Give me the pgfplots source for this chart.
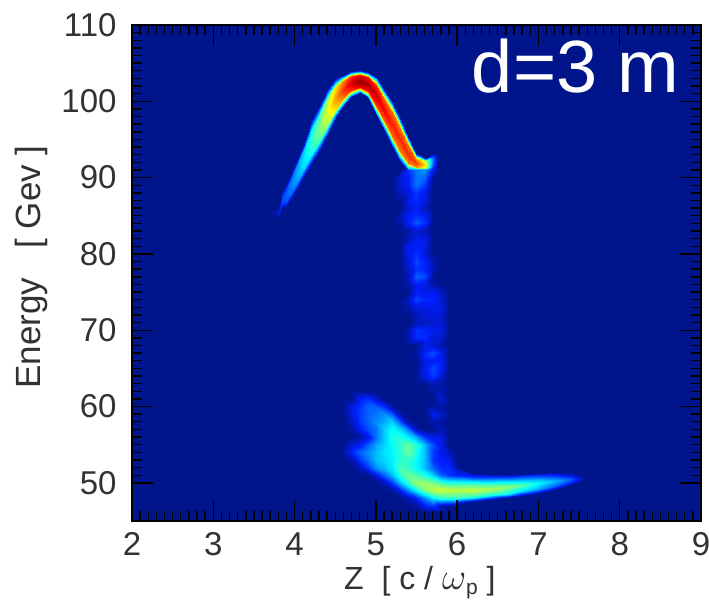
\documentclass[border=0pt]{standalone}
\usepackage{pgfplots}
\usepackage{pgfplotstable}
\usepackage{fontspec}
\setmainfont{Liberation Sans}
\pgfplotsset{compat=1.18}
\definecolor{bg}{RGB}{0,20,140}
\definecolor{lab}{RGB}{50,50,50}
\pgfplotstableread[row sep=\\]{
Z E m\\
3.74 84.5 0\\3.74 84.8 0\\3.74 85 0\\3.74 85.2 0\\3.74 85.4 0\\3.74 85.6 0\\3.74 85.8 0\\
3.8 84.7 0\\3.8 84.79 .03\\3.8 84.97 .07\\3.8 85.3 .08\\3.8 85.63 .07\\3.8 85.81 .03\\3.8 85.9 0\\
3.85 86 0\\3.85 86.17 .06\\3.85 86.5 .15\\3.85 87.1 .17\\3.85 87.7 .15\\3.85 88.04 .06\\3.85 88.2 0\\
3.9 86.2 0\\3.9 86.41 .07\\3.9 86.83 .18\\3.9 87.6 .2\\3.9 88.43 .18\\3.9 88.88 .07\\3.9 89.1 0\\
4.0 88 0\\4.0 88.2 .09\\4.0 88.85 .24\\4.0 89.9 .27\\4.0 90.95 .24\\4.0 91.6 .09\\4.0 91.8 0\\
4.1 89.9 0\\4.1 90.27 .12\\4.1 91.01 .32\\4.1 92.2 .35\\4.1 93.34 .32\\4.1 94.05 .12\\4.1 94.4 0\\
4.2 91.6 0\\4.2 92.06 .15\\4.2 92.98 .38\\4.2 94.5 .42\\4.2 96.08 .38\\4.2 97.03 .15\\4.2 97.5 0\\
4.3 93.4 0\\4.3 93.88 .18\\4.3 94.83 .45\\4.3 96.4 .5\\4.3 97.98 .45\\4.3 98.93 .18\\4.3 99.4 0\\
4.4 95.4 0\\4.4 95.89 .21\\4.4 96.87 .54\\4.4 98.5 .6\\4.4 100.13 .54\\4.4 101.11 .21\\4.4 101.6 0\\
4.5 97.6 0\\4.5 98.03 .25\\4.5 98.89 .65\\4.5 100.3 .72\\4.5 101.71 .65\\4.5 102.57 .25\\4.5 103 0\\
4.6 99.3 0\\4.6 99.66 .29\\4.6 100.37 .75\\4.6 101.5 .83\\4.6 102.6 .75\\4.6 103.2 .29\\4.6 103.5 0\\
4.7 100.6 0\\4.7 100.85 .32\\4.7 101.45 .83\\4.7 102.4 .92\\4.7 103.3 .83\\4.7 103.75 .32\\4.7 104 0\\
4.8 101.1 0\\4.8 101.35 .35\\4.8 101.85 .89\\4.8 102.7 .99\\4.8 103.5 .89\\4.8 103.9 .35\\4.8 104.1 0\\
4.9 100.4 0\\4.9 100.7 .34\\4.9 101.3 .86\\4.9 102.3 .96\\4.9 103.2 .86\\4.9 103.6 .34\\4.9 103.9 0\\
5.0 98.2 0\\5.0 98.6 .32\\5.0 99.47 .83\\5.0 100.9 .92\\5.0 102.15 .83\\5.0 102.9 .32\\5.0 103.3 0\\
5.1 96.2 0\\5.1 96.63 .31\\5.1 97.49 .79\\5.1 98.9 .88\\5.1 100.31 .79\\5.1 101.17 .31\\5.1 101.6 0\\
5.2 94 0\\5.2 94.48 .3\\5.2 95.43 .77\\5.2 97 .85\\5.2 98.63 .77\\5.2 99.61 .3\\5.2 100.1 0\\
5.3 92.1 .03\\5.3 92.56 .29\\5.3 93.48 .76\\5.3 95 .84\\5.3 96.52 .76\\5.3 97.44 .29\\5.3 97.9 0\\
5.4 91 .15\\5.4 91.3 .32\\5.4 91.85 .76\\5.4 93 .84\\5.4 94.3 .76\\5.4 95.1 .29\\5.4 95.5 0\\
5.5 91 .22\\5.5 91.14 .32\\5.5 91.4 .74\\5.5 91.9 .82\\5.5 92.5 .74\\5.5 92.9 .29\\5.5 93.2 0\\
5.6 91 .25\\5.6 91.1 .3\\5.6 91.32 .59\\5.6 91.7 .66\\5.6 92.2 .59\\5.6 92.47 .23\\5.6 92.6 0\\
5.65 91 .18\\5.65 91.14 .22\\5.65 91.4 .38\\5.65 91.9 .42\\5.65 92.45 .38\\5.65 92.75 .15\\5.65 92.9 0\\
5.7 91 .1\\5.7 91.4 .14\\5.7 91.84 .19\\5.7 92.4 .22\\5.7 92.72 .19\\5.7 92.98 .1\\5.7 93.2 0\\
5.76 91 0\\5.76 91.4 0\\5.76 91.84 0\\5.76 92.4 0\\5.76 92.72 0\\5.76 92.98 0\\5.76 93.2 0\\
}\arc
\pgfplotstableread[row sep=\\]{
Z E m\\
5.2 91 0\\5.3 91 0\\
5.2 90 0\\5.3 90 .08\\
5.2 89 0\\5.3 89 .08\\
5.2 88 0\\5.3 88 .05\\
5.2 87 0\\5.3 87 0\\
5.2 86 0\\5.3 86 0\\
5.2 85 0\\5.3 85 .05\\
5.2 84 0\\5.3 84 .02\\
5.2 83 0\\5.3 83 0\\
}\streamedge
\pgfplotstableread[row sep=\\]{
Z E m\\
5.3 91 0\\5.4 91 .15\\5.5 91 .22\\5.6 91 .25\\5.7 91 .1\\5.8 91 0\\5.9 91 0\\
5.3 90 .08\\5.4 90 .12\\5.5 90 .22\\5.6 90 .2\\5.7 90 0\\5.8 90 0\\5.9 90 0\\
5.3 89 .08\\5.4 89 .12\\5.5 89 .22\\5.6 89 .15\\5.7 89 0\\5.8 89 0\\5.9 89 0\\
5.3 88 .05\\5.4 88 .08\\5.5 88 .15\\5.6 88 .1\\5.7 88 0\\5.8 88 0\\5.9 88 0\\
5.3 87 0\\5.4 87 .1\\5.5 87 .14\\5.6 87 .08\\5.7 87 0\\5.8 87 0\\5.9 87 0\\
5.3 86 0\\5.4 86 .07\\5.5 86 .12\\5.6 86 .05\\5.7 86 0\\5.8 86 0\\5.9 86 0\\
5.3 85 .05\\5.4 85 .12\\5.5 85 .15\\5.6 85 .12\\5.7 85 0\\5.8 85 0\\5.9 85 0\\
5.3 84 .02\\5.4 84 .12\\5.5 84 .19\\5.6 84 .14\\5.7 84 0\\5.8 84 0\\5.9 84 0\\
5.3 83 0\\5.4 83 .03\\5.5 83 .08\\5.6 83 .04\\5.7 83 0\\5.8 83 0\\5.9 83 0\\
5.3 82 0\\5.4 82 .05\\5.5 82 .1\\5.6 82 .1\\5.7 82 0\\5.8 82 0\\5.9 82 0\\
5.3 81 0\\5.4 81 .12\\5.5 81 .12\\5.6 81 .1\\5.7 81 0\\5.8 81 0\\5.9 81 0\\
5.3 80 0\\5.4 80 .1\\5.5 80 .15\\5.6 80 .08\\5.7 80 0\\5.8 80 0\\5.9 80 0\\
5.3 79 0\\5.4 79 .09\\5.5 79 .17\\5.6 79 .13\\5.7 79 .03\\5.8 79 0\\5.9 79 0\\
5.3 78 0\\5.4 78 .06\\5.5 78 .15\\5.6 78 .13\\5.7 78 .04\\5.8 78 0\\5.9 78 0\\
5.3 77 0\\5.4 77 .05\\5.5 77 .2\\5.6 77 .17\\5.7 77 0\\5.8 77 0\\5.9 77 0\\
5.3 76 0\\5.4 76 .03\\5.5 76 .12\\5.6 76 .1\\5.7 76 .03\\5.8 76 0\\5.9 76 0\\
5.3 75 0\\5.4 75 0\\5.5 75 .12\\5.6 75 .1\\5.7 75 .12\\5.8 75 .05\\5.9 75 0\\
5.3 74 0\\5.4 74 .06\\5.5 74 .17\\5.6 74 .13\\5.7 74 .13\\5.8 74 .08\\5.9 74 0\\
5.3 73 0\\5.4 73 .03\\5.5 73 .09\\5.6 73 .1\\5.7 73 .1\\5.8 73 .1\\5.9 73 0\\
5.3 72 0\\5.4 72 0\\5.5 72 .05\\5.6 72 .08\\5.7 72 .09\\5.8 72 .08\\5.9 72 0\\
5.3 71 0\\5.4 71 0\\5.5 71 .05\\5.6 71 .06\\5.7 71 .07\\5.8 71 .08\\5.9 71 0\\
5.3 70 0\\5.4 70 .03\\5.5 70 .15\\5.6 70 .13\\5.7 70 .1\\5.8 70 .1\\5.9 70 0\\
5.3 69 0\\5.4 69 .03\\5.5 69 .14\\5.6 69 .14\\5.7 69 .08\\5.8 69 .07\\5.9 69 0\\
5.3 68 0\\5.4 68 0\\5.5 68 0\\5.6 68 .1\\5.7 68 .08\\5.8 68 .03\\5.9 68 0\\
5.3 67 0\\5.4 67 0\\5.5 67 .02\\5.6 67 .14\\5.7 67 .18\\5.8 67 .1\\5.9 67 0\\
5.3 66 0\\5.4 66 0\\5.5 66 0\\5.6 66 .1\\5.7 66 .12\\5.8 66 .12\\5.9 66 0\\
5.3 65 0\\5.4 65 0\\5.5 65 0\\5.6 65 .12\\5.7 65 .17\\5.8 65 .12\\5.9 65 0\\
5.3 64 0\\5.4 64 0\\5.5 64 0\\5.6 64 .1\\5.7 64 .16\\5.8 64 .08\\5.9 64 0\\
5.3 63 0\\5.4 63 0\\5.5 63 0\\5.6 63 0\\5.7 63 .05\\5.8 63 .03\\5.9 63 0\\
5.3 62 0\\5.4 62 0\\5.5 62 0\\5.6 62 0\\5.7 62 .02\\5.8 62 .05\\5.9 62 0\\
}\stream
\pgfplotstableread[row sep=\\]{
Z E m\\
4.6 46 0\\4.7 46 0\\4.8 46 0\\4.9 46 0\\5.0 46 0\\5.1 46 0\\5.2 46 0\\5.3 46 0\\5.4 46 0\\5.5 46 0\\5.6 46 0\\5.7 46 0\\5.8 46 0\\5.9 46 0\\6.0 46 0\\
4.6 47 0\\4.7 47 0\\4.8 47 0\\4.9 47 0\\5.0 47 0\\5.1 47 0\\5.2 47 0\\5.3 47 0\\5.4 47 0\\5.5 47 .02\\5.6 47 .12\\5.7 47 .15\\5.8 47 .05\\5.9 47 0\\6.0 47 0\\
4.6 48 0\\4.7 48 0\\4.8 48 0\\4.9 48 0\\5.0 48 0\\5.1 48 0\\5.2 48 0\\5.3 48 0\\5.4 48 .05\\5.5 48 .12\\5.6 48 .25\\5.7 48 .36\\5.8 48 .42\\5.9 48 .42\\6.0 48 .42\\
4.6 49 0\\4.7 49 0\\4.8 49 0\\4.9 49 0\\5.0 49 0\\5.1 49 0\\5.2 49 .02\\5.3 49 .12\\5.4 49 .25\\5.5 49 .38\\5.6 49 .5\\5.7 49 .56\\5.8 49 .57\\5.9 49 .57\\6.0 49 .56\\
4.6 50 0\\4.7 50 0\\4.8 50 0\\4.9 50 0\\5.0 50 0\\5.1 50 .05\\5.2 50 .15\\5.3 50 .3\\5.4 50 .42\\5.5 50 .52\\5.6 50 .52\\5.7 50 .5\\5.8 50 .45\\5.9 50 .42\\6.0 50 .42\\
4.6 51 0\\4.7 51 0\\4.8 51 0\\4.9 51 0\\5.0 51 .1\\5.1 51 .2\\5.2 51 .3\\5.3 51 .42\\5.4 51 .48\\5.5 51 .45\\5.6 51 .4\\5.7 51 .32\\5.8 51 .2\\5.9 51 .15\\6.0 51 .12\\
4.6 52 0\\4.7 52 0\\4.8 52 .05\\4.9 52 .15\\5.0 52 .25\\5.1 52 .3\\5.2 52 .35\\5.3 52 .45\\5.4 52 .42\\5.5 52 .38\\5.6 52 .3\\5.7 52 .2\\5.8 52 .14\\5.9 52 .14\\6.0 52 .03\\
4.6 53 0\\4.7 53 .03\\4.8 53 .15\\4.9 53 .22\\5.0 53 .3\\5.1 53 .33\\5.2 53 .36\\5.3 53 .42\\5.4 53 .42\\5.5 53 .38\\5.6 53 .3\\5.7 53 .15\\5.8 53 .12\\5.9 53 .1\\6.0 53 0\\
4.6 54 .03\\4.7 54 .12\\4.8 54 .2\\4.9 54 .25\\5.0 54 .3\\5.1 54 .35\\5.2 54 .37\\5.3 54 .42\\5.4 54 .48\\5.5 54 .4\\5.6 54 .3\\5.7 54 .15\\5.8 54 .1\\5.9 54 .05\\6.0 54 0\\
4.6 55 0\\4.7 55 .08\\4.8 55 .12\\4.9 55 .2\\5.0 55 .28\\5.1 55 .33\\5.2 55 .38\\5.3 55 .42\\5.4 55 .48\\5.5 55 .42\\5.6 55 .3\\5.7 55 .18\\5.8 55 .1\\5.9 55 0\\6.0 55 0\\
4.6 56 0\\4.7 56 0\\4.8 56 .03\\4.9 56 .1\\5.0 56 .22\\5.1 56 .32\\5.2 56 .4\\5.3 56 .4\\5.4 56 .36\\5.5 56 .28\\5.6 56 .15\\5.7 56 .1\\5.8 56 .1\\5.9 56 0\\6.0 56 0\\
4.6 57 0\\4.7 57 .02\\4.8 57 .12\\4.9 57 .18\\5.0 57 .22\\5.1 57 .32\\5.2 57 .38\\5.3 57 .33\\5.4 57 .22\\5.5 57 .05\\5.6 57 0\\5.7 57 0\\5.8 57 .05\\5.9 57 0\\6.0 57 0\\
4.6 58 0\\4.7 58 .05\\4.8 58 .15\\4.9 58 .2\\5.0 58 .25\\5.1 58 .28\\5.2 58 .33\\5.3 58 .2\\5.4 58 .03\\5.5 58 0\\5.6 58 0\\5.7 58 .04\\5.8 58 .02\\5.9 58 0\\6.0 58 0\\
4.6 59 0\\4.7 59 .08\\4.8 59 .16\\4.9 59 .2\\5.0 59 .22\\5.1 59 .25\\5.2 59 .2\\5.3 59 .03\\5.4 59 0\\5.5 59 0\\5.6 59 0\\5.7 59 .12\\5.8 59 .06\\5.9 59 0\\6.0 59 0\\
4.6 60 0\\4.7 60 .1\\4.8 60 .15\\4.9 60 .2\\5.0 60 .2\\5.1 60 .15\\5.2 60 .03\\5.3 60 0\\5.4 60 0\\5.5 60 0\\5.6 60 0\\5.7 60 .03\\5.8 60 .03\\5.9 60 0\\6.0 60 0\\
4.6 61 0\\4.7 61 0\\4.8 61 .12\\4.9 61 .15\\5.0 61 .08\\5.1 61 0\\5.2 61 0\\5.3 61 0\\5.4 61 0\\5.5 61 0\\5.6 61 0\\5.7 61 0\\5.8 61 .08\\5.9 61 0\\6.0 61 0\\
4.6 62 0\\4.7 62 0\\4.8 62 0\\4.9 62 0\\5.0 62 0\\5.1 62 0\\5.2 62 0\\5.3 62 0\\5.4 62 0\\5.5 62 0\\5.6 62 0\\5.7 62 .02\\5.8 62 .05\\5.9 62 0\\6.0 62 0\\
}\blob
\pgfplotstableread[row sep=\\]{
Z E m\\
6.0 47.2 0\\6.0 48 .42\\6.0 49 .56\\6.0 50 .42\\6.0 51 .12\\6.0 52 .03\\
6.2 47.5 0\\6.2 48.2 .42\\6.2 49.1 .57\\6.2 50 .42\\6.2 50.8 .15\\6.2 51.3 0\\
6.4 47.8 0\\6.4 48.4 .4\\6.4 49.2 .55\\6.4 50 .4\\6.4 50.8 .15\\6.4 51.2 0\\
6.6 48 0\\6.6 48.6 .38\\6.6 49.4 .52\\6.6 50.1 .38\\6.6 50.8 .15\\6.6 51.2 0\\
6.8 48.3 0\\6.8 48.9 .34\\6.8 49.7 .47\\6.8 50.3 .34\\6.8 50.9 .15\\6.8 51.2 0\\
7.0 48.6 0\\7.0 49.2 .28\\7.0 50 .38\\7.0 50.5 .28\\7.0 51 .14\\7.0 51.3 0\\
7.2 49.1 0\\7.2 49.6 .2\\7.2 50.2 .3\\7.2 50.7 .22\\7.2 51.1 .1\\7.2 51.4 0\\
7.4 49.7 0\\7.4 50.1 .14\\7.4 50.5 .2\\7.4 50.8 .14\\7.4 51.1 .06\\7.4 51.3 0\\
7.55 50.3 0\\7.55 50.5 .02\\7.55 50.7 .05\\7.55 50.8 .02\\7.55 50.9 0\\7.55 51 0\\
}\tail
\begin{document}
\begin{tikzpicture}
\useasboundingbox (-132pt,-86pt) rectangle (577pt,521pt);
\begin{axis}[
  at={(0pt,0pt)}, anchor=south west,
  scale only axis, width=569pt, height=496pt,
  xmin=2, xmax=9, ymin=45, ymax=110,
  xtick={2,3,...,9}, ytick={50,60,...,110},
  minor x tick num=9, minor y tick num=9,
  tick align=inside, xtick pos=both, ytick pos=both,
  major tick length=21pt, minor tick length=10pt,
  every tick/.style={black, line width=1.4pt},
  axis line style={line width=1.2pt, black},
  axis background/.style={fill=bg},
  axis on top,
  tick label style={font=\fontsize{33}{36}\selectfont, color=lab},
  /pgf/number format/assume math mode=true,
  xticklabel style={yshift=-8pt},
  yticklabel style={xshift=-12pt},
  xlabel={Z\ \ [ c / \scalebox{1.5}{$\omega$}\raisebox{-5pt}{\fontsize{21}{22}\selectfont p} ]},
  ylabel={Energy\ \ \ [ Gev ]},
  xlabel style={font=\fontsize{32}{36}\selectfont, color=lab, at={(axis description cs:0.506,-0.125)}, anchor=center},
  ylabel style={font=\fontsize{35}{38}\selectfont, color=lab, at={(axis description cs:-0.177,0.512)}, anchor=center},
  colormap={beam}{rgb255(0pt)=(0,20,140); rgb255(12.5pt)=(0,30,255); rgb255(37.5pt)=(0,255,255); rgb255(62.5pt)=(255,255,0); rgb255(87.5pt)=(255,0,0); rgb255(100pt)=(128,0,0)},
  point meta min=0, point meta max=1,
]
\addplot[surf, shader=interp, mesh/cols=2, point meta=explicit] table[x=Z,y=E,meta=m] {\streamedge};
\addplot[surf, shader=interp, mesh/cols=7, point meta=explicit] table[x=Z,y=E,meta=m] {\stream};
\addplot[surf, shader=interp, mesh/cols=15, point meta=explicit] table[x=Z,y=E,meta=m] {\blob};
\addplot[surf, shader=interp, mesh/cols=6, point meta=explicit] table[x=Z,y=E,meta=m] {\tail};
\addplot[surf, shader=interp, mesh/cols=7, point meta=explicit] table[x=Z,y=E,meta=m] {\arc};
\node[anchor=base east, text=white, font=\fontsize{74}{80}\selectfont, inner sep=0pt] at (axis cs:8.74,101.2) {d=3 m};
\end{axis}
\end{tikzpicture}
\end{document}
